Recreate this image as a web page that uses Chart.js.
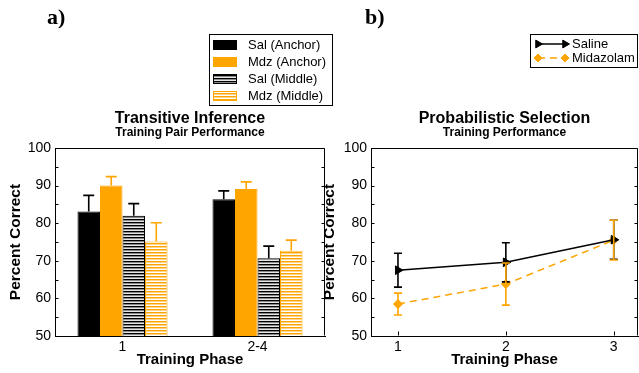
<!DOCTYPE html>
<html>
<head>
<meta charset="utf-8">
<script src="https://cdn.jsdelivr.net/npm/chart.js@4.4.1/dist/chart.umd.min.js"></script>
<style>
  html, body { margin: 0; padding: 0; background: #fff; }
  #wrap { position: relative; width: 639px; height: 373px; overflow: hidden; }
  #tiChart { position: absolute; left: 0; top: 0; }
  #psChart { position: absolute; left: 320px; top: 0; }
</style>
</head>
<body>
<div id="wrap">
  <canvas id="tiChart" width="340" height="373"></canvas>
  <canvas id="psChart" width="319" height="373"></canvas>
</div>
<script>
// --- data: Transitive Inference (panel a) ---
const tiPhases      = ['1', '2-4'];
const salAnchor     = [83.1, 86.4];
const salAnchorErr  = [4.3, 2.2];
const mdzAnchor     = [90.0, 89.1];
const mdzAnchorErr  = [2.4, 1.9];
const salMiddle     = [82.0, 70.7];
const salMiddleErr  = [3.2, 3.2];
const mdzMiddle     = [75.1, 72.7];
const mdzMiddleErr  = [5.0, 2.8];

// --- data: Probabilistic Selection (panel b) ---
const psPhases      = [1, 2, 3];
const saline        = [67.5, 69.6, 75.6];
const salineErr     = [4.5, 5.2, 5.2];
const midazolam     = [58.5, 63.8, 75.5];
const midazolamErr  = [2.9, 5.6, 5.3];

const yTicks = [50, 60, 70, 80, 90, 100];

const ORANGE = '#FFA500';
const FONT = '"Liberation Sans", Arial, Helvetica, sans-serif';
Chart.defaults.font.family = FONT;
Chart.defaults.color = '#000';

function stripes(c1, c2, c3){
  const cv = document.createElement('canvas');
  cv.width = 4; cv.height = 3;
  const g = cv.getContext('2d');
  g.fillStyle = c1; g.fillRect(0, 0, 4, 1);
  g.fillStyle = c2; g.fillRect(0, 1, 4, 1);
  g.fillStyle = c3; g.fillRect(0, 2, 4, 1);
  return g.createPattern(cv, 'repeat');
}

// box + inward ticks (top/right sides and minor ticks)
const frame = {
  id: 'frame',
  afterDraw(chart, args, opts){
    const {ctx, chartArea: a} = chart;
    const ys = chart.scales.y, xs = chart.scales.x;
    const L = Math.round(a.left) + 0.5, R = Math.round(a.right) - 0.5;
    const T = Math.round(a.top) + 0.5, B = Math.round(a.bottom) - 0.5;
    ctx.save();
    ctx.strokeStyle = '#000';
    ctx.lineWidth = 1;
    ctx.beginPath();
    ctx.moveTo(L, T); ctx.lineTo(R, T); ctx.lineTo(R, B);
    for (let v = 50; v <= 100; v += 5){
      const y = Math.round(ys.getPixelForValue(v)) + 0.5;
      ctx.moveTo(L, y); ctx.lineTo(L + 3, y);
      ctx.moveTo(R, y); ctx.lineTo(R - 3, y);
    }
    if (opts.xTicks){
      xs.ticks.forEach(t => {
        const x = Math.round(xs.getPixelForValue(t.value)) + 0.5;
        ctx.moveTo(x, B); ctx.lineTo(x, B - 4);
      });
    }
    ctx.stroke();
    ctx.restore();
  }
};

// error bars (values + errors from dataset.errors)
const errorBars = {
  id: 'errorBars',
  afterDatasetsDraw(chart, args, opts){
    const {ctx} = chart;
    const ys = chart.scales.y;
    chart.data.datasets.forEach((ds, i) => {
      const meta = chart.getDatasetMeta(i);
      ctx.save();
      ctx.strokeStyle = ds.errorColor;
      ctx.lineWidth = 1.6;
      meta.data.forEach((el, j) => {
        const raw = ds.data[j];
        const v = typeof raw === 'object' ? raw.y : raw;
        const e = ds.errors[j];
        const x = el.x;
        const yTop = ys.getPixelForValue(v + e);
        const yBot = opts.upperOnly ? ys.getPixelForValue(v) : ys.getPixelForValue(v - e);
        const w = opts.cap;
        ctx.beginPath();
        ctx.moveTo(x, yBot); ctx.lineTo(x, yTop);
        ctx.moveTo(x - w, yTop); ctx.lineTo(x + w, yTop);
        if (!opts.upperOnly){ ctx.moveTo(x - w, yBot); ctx.lineTo(x + w, yBot); }
        ctx.stroke();
      });
      ctx.restore();
    });
  }
};

// panel letter
const panelTag = {
  id: 'panelTag',
  afterDraw(chart, args, opts){
    const {ctx} = chart;
    ctx.save();
    ctx.font = 'bold 22px "Liberation Serif", "Times New Roman", serif';
    ctx.fillStyle = '#000';
    ctx.textBaseline = 'alphabetic';
    ctx.fillText(opts.text, opts.x, opts.y);
    ctx.restore();
  }
};

// legend boxes
const boxLegend = {
  id: 'boxLegend',
  afterDraw(chart, args, opts){
    const {ctx} = chart;
    const b = opts.box;
    ctx.save();
    ctx.fillStyle = '#fff';
    ctx.fillRect(b.x, b.y, b.w, b.h);
    ctx.strokeStyle = '#000';
    ctx.lineWidth = 1;
    ctx.strokeRect(b.x + 0.5, b.y + 0.5, b.w, b.h);
    ctx.font = '13px ' + FONT;
    ctx.textBaseline = 'middle';
    chart.data.datasets.forEach((ds, i) => {
      const cy = b.y + opts.firstRow + i * opts.rowGap;
      if (opts.kind === 'bar'){
        ctx.fillStyle = ds.backgroundColor;
        ctx.fillRect(b.x + 4, cy - 5, 24, 10);
        ctx.strokeStyle = ds.borderColor;
        ctx.strokeRect(b.x + 4.5, cy - 4.5, 23, 9);
        ctx.fillStyle = '#000';
        ctx.fillText(ds.label, b.x + 39, cy + 0.5);
      } else {
        const x0 = b.x + 8, x1 = b.x + 35;
        ctx.strokeStyle = ds.borderColor;
        ctx.fillStyle = ds.backgroundColor;
        ctx.lineWidth = 1.5;
        ctx.setLineDash(ds.borderDash || []);
        ctx.beginPath(); ctx.moveTo(x0, cy); ctx.lineTo(x1, cy); ctx.stroke();
        ctx.setLineDash([]);
        ctx.lineWidth = 1;
        [x0, x1].forEach(px => {
          Chart.helpers.drawPoint(ctx, {
            pointStyle: ds.pointStyle, rotation: ds.pointRotation || 0,
            radius: ds.pointRadius - 0.5, borderWidth: 1
          }, px, cy);
        });
        ctx.fillStyle = '#000';
        ctx.fillText(ds.label, b.x + 42, cy + 0.5);
      }
    });
    ctx.restore();
  }
};

function yScale(width, titlePad){
  return {
    min: 50, max: 100,
    afterBuildTicks: s => { s.ticks = yTicks.map(v => ({value: v})); },
    afterFit: s => { s.width = width; s.paddingTop = 0; s.paddingBottom = 0; },
    grid: { display: false, drawTicks: false },
    border: { display: true, color: '#000', width: 1 },
    ticks: { font: { size: 14 }, padding: 4, color: '#000' },
    title: { display: true, text: 'Percent Correct', font: { size: 15.5, weight: 'bold' },
             padding: { top: titlePad, bottom: 0 } }
  };
}
const xTitle = { display: true, text: 'Training Phase', font: { size: 15, weight: 'bold' },
                 padding: { top: 0, bottom: 4 } };
const titleOpts = (t) => ({ display: true, fullSize: false, text: t,
                            font: { size: 16, weight: 'bold', lineHeight: 1 },
                            padding: { top: 111, bottom: 0 } });
const subOpts = (t) => ({ display: true, fullSize: false, text: t,
                          font: { size: 12, weight: 'bold', lineHeight: 1 },
                          padding: { top: 0, bottom: 9 } });

// === panel a: bars ===
new Chart(document.getElementById('tiChart'), {
  type: 'bar',
  data: {
    labels: tiPhases,
    datasets: [
      { label: 'Sal (Anchor)',  data: salAnchor, errors: salAnchorErr, errorColor: '#000',
        backgroundColor: '#000', borderColor: '#000', borderWidth: 1 },
      { label: 'Mdz (Anchor)',  data: mdzAnchor, errors: mdzAnchorErr, errorColor: ORANGE,
        backgroundColor: ORANGE, borderColor: ORANGE, borderWidth: 1 },
      { label: 'Sal (Middle)',  data: salMiddle, errors: salMiddleErr, errorColor: '#000',
        backgroundColor: stripes('#000', '#8a8a8a', '#e6e6e6'), borderColor: '#000', borderWidth: 1 },
      { label: 'Mdz (Middle)',  data: mdzMiddle, errors: mdzMiddleErr, errorColor: ORANGE,
        backgroundColor: stripes(ORANGE, '#FFD38A', '#fff'), borderColor: ORANGE, borderWidth: 1 },
    ]
  },
  options: {
    responsive: false,
    animation: false,
    categoryPercentage: 0.667,
    barPercentage: 1,
    layout: { autoPadding: false, padding: { left: 0, right: 15, top: 0, bottom: 0 } },
    plugins: {
      legend: { display: false },
      tooltip: { enabled: false },
      title: titleOpts('Transitive Inference'),
      subtitle: subOpts('Training Pair Performance'),
      errorBars: { cap: 5.5, upperOnly: true },
      frame: { xTicks: false },
      panelTag: { text: 'a)', x: 47, y: 24 },
      boxLegend: { kind: 'bar', box: { x: 209, y: 34, w: 123, h: 71 }, firstRow: 11, rowGap: 17 }
    },
    scales: {
      x: {
        afterFit: s => { s.height = 37; s.paddingLeft = 0; s.paddingRight = 0; },
        grid: { display: false, drawTicks: false },
        border: { display: true, color: '#000', width: 1 },
        ticks: { font: { size: 14 }, padding: 3, color: '#000' },
        title: xTitle
      },
      y: yScale(55, 6.2)
    }
  },
  plugins: [errorBars, frame, panelTag, boxLegend]
});

// === panel b: lines ===
new Chart(document.getElementById('psChart'), {
  type: 'line',
  data: {
    datasets: [
      { label: 'Saline', data: psPhases.map((p, i) => ({x: p, y: saline[i]})),
        errors: salineErr, errorColor: '#000',
        borderColor: '#000', backgroundColor: '#000', borderWidth: 1.5,
        pointStyle: 'triangle', pointRotation: 90, pointRadius: 5, pointBorderWidth: 1 },
      { label: 'Midazolam', data: psPhases.map((p, i) => ({x: p, y: midazolam[i]})),
        errors: midazolamErr, errorColor: ORANGE,
        borderColor: ORANGE, backgroundColor: ORANGE, borderWidth: 1.5, borderDash: [7, 5],
        pointStyle: 'rectRot', pointRadius: 4.5, pointBorderWidth: 1 },
    ]
  },
  options: {
    responsive: false,
    animation: false,
    layout: { autoPadding: false, padding: { left: 0, right: 1, top: 0, bottom: 0 } },
    plugins: {
      legend: { display: false },
      tooltip: { enabled: false },
      title: titleOpts('Probabilistic Selection'),
      subtitle: subOpts('Training Performance'),
      errorBars: { cap: 4, upperOnly: false },
      frame: { xTicks: true },
      panelTag: { text: 'b)', x: 45, y: 24 },
      boxLegend: { kind: 'line', box: { x: 210, y: 34, w: 107, h: 33 }, firstRow: 10, rowGap: 14 }
    },
    scales: {
      x: {
        type: 'linear', min: 0.75, max: 3.225,
        afterBuildTicks: s => { s.ticks = psPhases.map(v => ({value: v})); },
        afterFit: s => { s.height = 37; s.paddingLeft = 0; s.paddingRight = 0; },
        grid: { display: false, drawTicks: false },
        border: { display: true, color: '#000', width: 1 },
        ticks: { font: { size: 14 }, padding: 3, color: '#000' },
        title: xTitle
      },
      y: yScale(51, 0.7)
    }
  },
  plugins: [errorBars, frame, panelTag, boxLegend]
});
</script>
</body>
</html>
